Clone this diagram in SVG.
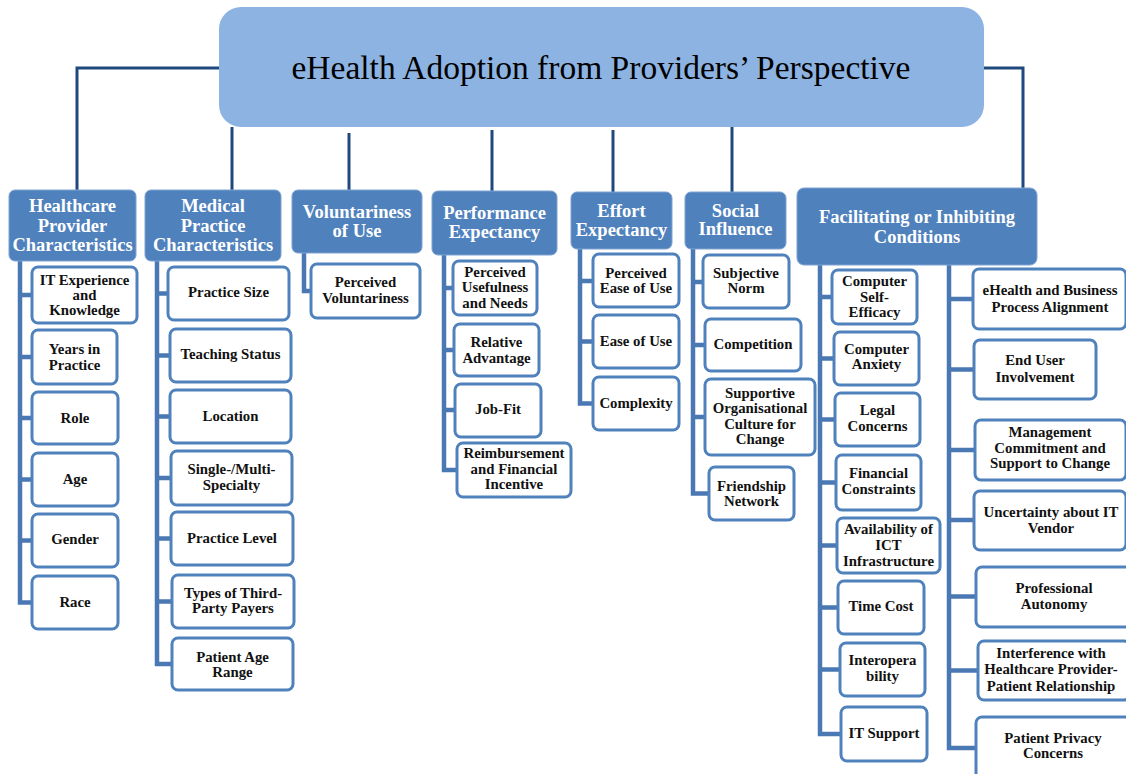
<svg xmlns="http://www.w3.org/2000/svg" width="1126" height="774" viewBox="0 0 1126 774">
<style>
.top{fill:#8db3e2}
.ttl{font-family:"Liberation Serif",serif;font-size:33.5px;fill:#000;text-anchor:middle}
.hdr{fill:#4f81bd;stroke:#7ea3d2;stroke-width:1}
.ht{font-family:"Liberation Serif",serif;font-weight:bold;font-size:18.5px;fill:#fff;text-anchor:middle}
.box{fill:#fff;stroke:#4f81bd;stroke-width:3}
.t{font-family:"Liberation Serif",serif;font-weight:bold;font-size:14.8px;fill:#111;text-anchor:middle}
.trunk{stroke:#1f497d;stroke-width:3;fill:none}
.br{stroke:#4a78b3;stroke-width:4.5;fill:none;stroke-linejoin:miter}
</style>
<rect width="1126" height="774" fill="#fff"/>
<g id="connectors">
<path class="trunk" d="M219 68 H77 V190"/>
<path class="trunk" d="M232 127 V190"/>
<path class="trunk" d="M349 133 V192"/>
<path class="trunk" d="M492 130 V191"/>
<path class="trunk" d="M613 130 V192"/>
<path class="trunk" d="M732 127 V192"/>
<path class="trunk" d="M984 68 H1023 V188"/>
<path class="br" d="M20 261 V602.5 H32 M20 295 H32 M20 357 H32 M20 418 H32 M20 479.5 H32 M20 540.5 H32"/>
<path class="br" d="M157 261 V664 H172 M157 293.5 H168 M157 355.5 H170 M157 416.5 H170 M157 478 H171 M157 538.5 H171 M157 601.5 H172"/>
<path class="br" d="M304 253 V291 H311"/>
<path class="br" d="M444 255 V470 H457 M444 288 H453 M444 350 H454 M444 410 H455"/>
<path class="br" d="M580 249 V403.5 H593 M580 281 H593 M580 341.5 H593"/>
<path class="br" d="M693 249 V493.5 H709 M693 282 H703 M693 345 H705 M693 417 H705"/>
<path class="br" d="M820 265 V734 H841 M820 297 H832 M820 358.5 H834 M820 419.5 H835 M820 482.5 H836 M820 545.5 H836 M820 607.5 H838 M820 669.5 H840"/>
<path class="br" d="M949 265 V748 H976 M949 299 H973 M949 369.5 H974 M949 450 H975 M949 520 H974 M949 596.5 H976 M949 670.5 H978"/>
</g>
<g id="root">
<rect class="top" x="219" y="7" width="765" height="120" rx="22"/>
<text class="ttl" x="601" y="79">eHealth Adoption from Providers’ Perspective</text>
</g>
<g id="h-healthcare">
<rect class="hdr" x="9" y="190" width="127" height="71" rx="6"/>
<text class="ht" x="72.5" y="212">Healthcare</text><text class="ht" x="72.5" y="232">Provider</text><text class="ht" x="72.5" y="251">Characteristics</text>
</g>
<g id="h-medical">
<rect class="hdr" x="145" y="190" width="136" height="71" rx="6"/>
<text class="ht" x="213" y="212">Medical</text><text class="ht" x="213" y="232">Practice</text><text class="ht" x="213" y="251">Characteristics</text>
</g>
<g id="h-voluntariness">
<rect class="hdr" x="292" y="190" width="130" height="63" rx="6"/>
<text class="ht" x="357" y="218">Voluntariness</text><text class="ht" x="357" y="237">of Use</text>
</g>
<g id="h-performance">
<rect class="hdr" x="432" y="191" width="125" height="64" rx="6"/>
<text class="ht" x="494.5" y="219">Performance</text><text class="ht" x="494.5" y="238">Expectancy</text>
</g>
<g id="h-effort">
<rect class="hdr" x="571" y="192" width="101" height="57" rx="6"/>
<text class="ht" x="621.5" y="217">Effort</text><text class="ht" x="621.5" y="236">Expectancy</text>
</g>
<g id="h-social">
<rect class="hdr" x="685" y="192" width="101" height="57" rx="6"/>
<text class="ht" x="735.5" y="217">Social</text><text class="ht" x="735.5" y="235">Influence</text>
</g>
<g id="h-facilitating">
<rect class="hdr" x="797" y="188" width="240" height="77" rx="7"/>
<text class="ht" x="917" y="223">Facilitating or Inhibiting</text><text class="ht" x="917" y="243">Conditions</text>
</g>
<g id="n-it-experience"><rect class="box" x="32" y="267" width="105" height="56" rx="6"/><text class="t" x="84.5" y="285">IT Experience</text><text class="t" x="84.5" y="300">and</text><text class="t" x="84.5" y="315">Knowledge</text></g>
<g id="n-years"><rect class="box" x="32" y="330" width="85" height="54" rx="6"/><text class="t" x="74.5" y="354">Years in</text><text class="t" x="74.5" y="370">Practice</text></g>
<g id="n-role"><rect class="box" x="32" y="392" width="86" height="52" rx="6"/><text class="t" x="75" y="423">Role</text></g>
<g id="n-age"><rect class="box" x="32" y="453" width="86" height="53" rx="6"/><text class="t" x="75" y="484">Age</text></g>
<g id="n-gender"><rect class="box" x="32" y="514" width="86" height="53" rx="6"/><text class="t" x="75" y="544">Gender</text></g>
<g id="n-race"><rect class="box" x="32" y="576" width="86" height="53" rx="6"/><text class="t" x="75" y="607">Race</text></g>
<g id="n-practice-size"><rect class="box" x="168" y="267" width="121" height="53" rx="6"/><text class="t" x="228.5" y="297">Practice Size</text></g>
<g id="n-teaching"><rect class="box" x="170" y="329" width="121" height="53" rx="6"/><text class="t" x="230.5" y="359">Teaching Status</text></g>
<g id="n-location"><rect class="box" x="170" y="390" width="121" height="53" rx="6"/><text class="t" x="230.5" y="421">Location</text></g>
<g id="n-specialty"><rect class="box" x="171" y="451" width="121" height="54" rx="6"/><text class="t" x="231.5" y="474">Single-/Multi-</text><text class="t" x="231.5" y="490">Specialty</text></g>
<g id="n-practice-level"><rect class="box" x="171" y="512" width="122" height="53" rx="6"/><text class="t" x="232" y="543">Practice Level</text></g>
<g id="n-payers"><rect class="box" x="172" y="575" width="122" height="53" rx="6"/><text class="t" x="233" y="598">Types of Third-</text><text class="t" x="233" y="613">Party Payers</text></g>
<g id="n-patient-age"><rect class="box" x="172" y="638" width="121" height="52" rx="6"/><text class="t" x="232.5" y="662">Patient Age</text><text class="t" x="232.5" y="677">Range</text></g>
<g id="n-perceived-vol"><rect class="box" x="311" y="264" width="109" height="54" rx="6"/><text class="t" x="365.5" y="287">Perceived</text><text class="t" x="365.5" y="303">Voluntariness</text></g>
<g id="n-usefulness"><rect class="box" x="453" y="261" width="84" height="54" rx="6"/><text class="t" x="495" y="277">Perceived</text><text class="t" x="495" y="292">Usefulness</text><text class="t" x="495" y="308">and Needs</text></g>
<g id="n-relative"><rect class="box" x="454" y="324" width="85" height="52" rx="6"/><text class="t" x="496.5" y="347">Relative</text><text class="t" x="496.5" y="363">Advantage</text></g>
<g id="n-jobfit"><rect class="box" x="455" y="384" width="86" height="53" rx="6"/><text class="t" x="498" y="414">Job-Fit</text></g>
<g id="n-reimbursement"><rect class="box" x="457" y="443" width="114" height="54" rx="6"/><text class="t" x="514" y="458">Reimbursement</text><text class="t" x="514" y="474">and Financial</text><text class="t" x="514" y="489">Incentive</text></g>
<g id="n-peou"><rect class="box" x="593" y="254" width="86" height="53" rx="6"/><text class="t" x="636" y="278">Perceived</text><text class="t" x="636" y="293">Ease of Use</text></g>
<g id="n-eou"><rect class="box" x="593" y="315" width="86" height="53" rx="6"/><text class="t" x="636" y="346">Ease of Use</text></g>
<g id="n-complexity"><rect class="box" x="593" y="377" width="86" height="53" rx="6"/><text class="t" x="636" y="408">Complexity</text></g>
<g id="n-subjective"><rect class="box" x="703" y="255" width="86" height="53" rx="6"/><text class="t" x="746" y="278">Subjective</text><text class="t" x="746" y="293">Norm</text></g>
<g id="n-competition"><rect class="box" x="705" y="319" width="96" height="52" rx="6"/><text class="t" x="753" y="349">Competition</text></g>
<g id="n-supportive"><rect class="box" x="705" y="379" width="110" height="76" rx="6"/><text class="t" x="760" y="398">Supportive</text><text class="t" x="760" y="413">Organisational</text><text class="t" x="760" y="429">Culture for</text><text class="t" x="760" y="444">Change</text></g>
<g id="n-friendship"><rect class="box" x="709" y="467" width="85" height="53" rx="6"/><text class="t" x="751.5" y="491">Friendship</text><text class="t" x="751.5" y="506">Network</text></g>
<g id="n-self-efficacy"><rect class="box" x="832" y="270" width="85" height="54" rx="6"/><text class="t" x="874.5" y="286">Computer</text><text class="t" x="874.5" y="302">Self-</text><text class="t" x="874.5" y="317">Efficacy</text></g>
<g id="n-anxiety"><rect class="box" x="834" y="332" width="85" height="53" rx="6"/><text class="t" x="876.5" y="354">Computer</text><text class="t" x="876.5" y="369">Anxiety</text></g>
<g id="n-legal"><rect class="box" x="835" y="393" width="85" height="53" rx="6"/><text class="t" x="877.5" y="415">Legal</text><text class="t" x="877.5" y="431">Concerns</text></g>
<g id="n-financial"><rect class="box" x="836" y="455" width="85" height="55" rx="6"/><text class="t" x="878.5" y="478">Financial</text><text class="t" x="878.5" y="494">Constraints</text></g>
<g id="n-ict"><rect class="box" x="837" y="518" width="103" height="55" rx="6"/><text class="t" x="888.5" y="534">Availability of</text><text class="t" x="888.5" y="550">ICT</text><text class="t" x="888.5" y="566">Infrastructure</text></g>
<g id="n-time-cost"><rect class="box" x="838" y="581" width="86" height="53" rx="6"/><text class="t" x="881" y="611">Time Cost</text></g>
<g id="n-interop"><rect class="box" x="840" y="643" width="85" height="53" rx="6"/><text class="t" x="882.5" y="665">Interopera</text><text class="t" x="882.5" y="681">bility</text></g>
<g id="n-it-support"><rect class="box" x="841" y="707" width="86" height="54" rx="6"/><text class="t" x="884" y="738">IT Support</text></g>
<g id="n-alignment"><rect class="box" x="973" y="269" width="153" height="60" rx="6"/><text class="t" x="1050" y="295">eHealth and Business</text><text class="t" x="1050" y="312">Process Alignment</text></g>
<g id="n-end-user"><rect class="box" x="974" y="340" width="122" height="59" rx="6"/><text class="t" x="1035" y="365">End User</text><text class="t" x="1035" y="382">Involvement</text></g>
<g id="n-management"><rect class="box" x="975" y="420" width="151" height="60" rx="6"/><text class="t" x="1050" y="437">Management</text><text class="t" x="1050" y="453">Commitment and</text><text class="t" x="1050" y="468">Support to Change</text></g>
<g id="n-vendor"><rect class="box" x="974" y="491" width="152" height="59" rx="6"/><text class="t" x="1051" y="517">Uncertainty about IT</text><text class="t" x="1051" y="533">Vendor</text></g>
<g id="n-autonomy"><rect class="box" x="976" y="567" width="156" height="60" rx="6"/><text class="t" x="1054" y="593">Professional</text><text class="t" x="1054" y="609">Autonomy</text></g>
<g id="n-interference"><rect class="box" x="978" y="641" width="152" height="59" rx="6"/><text class="t" x="1051" y="658">Interference with</text><text class="t" x="1051" y="674">Healthcare Provider-</text><text class="t" x="1051" y="691">Patient Relationship</text></g>
<g id="n-privacy"><rect class="box" x="976" y="717" width="156" height="62" rx="6"/><text class="t" x="1053" y="743">Patient Privacy</text><text class="t" x="1053" y="758">Concerns</text></g>
</svg>
